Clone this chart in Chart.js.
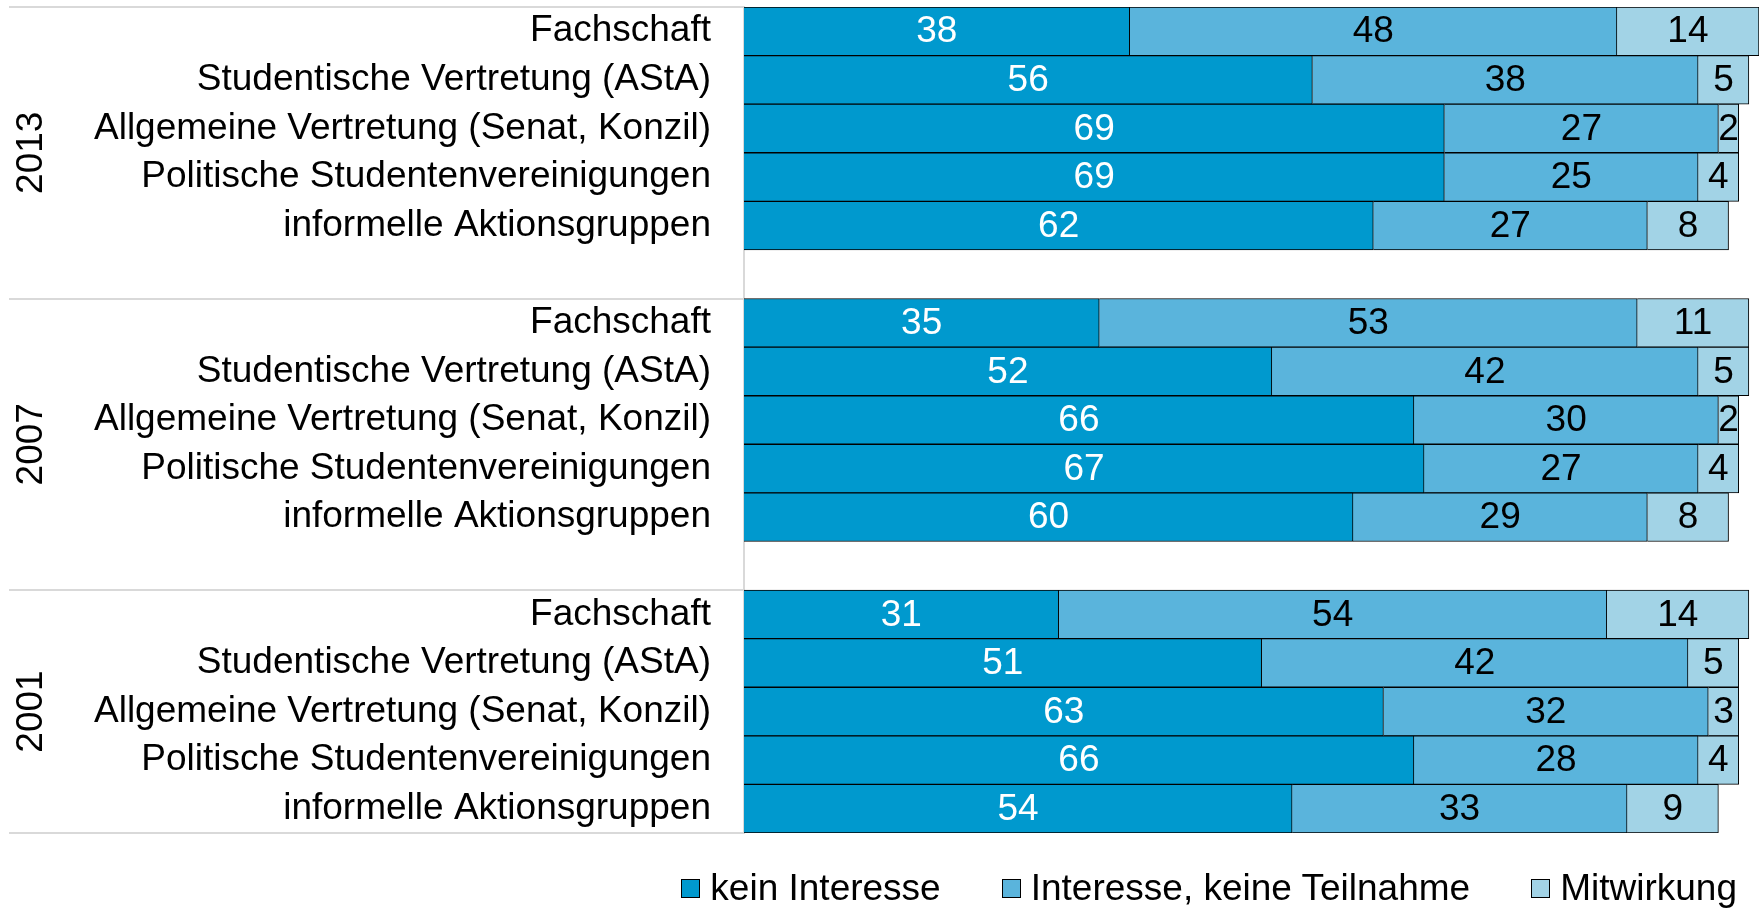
<!DOCTYPE html>
<html lang="de">
<head>
<meta charset="utf-8">
<title>Interesse an studentischer Mitwirkung</title>
<script src="https://cdn.jsdelivr.net/npm/chart.js@4.4.1/dist/chart.umd.min.js"></script>
<style>
  html, body { margin: 0; padding: 0; background: #fff; }
  .wrap { position: relative; width: 1760px; height: 908px; }
  .legend {
    position: absolute; top: 866px; right: 23px; height: 44px;
    display: flex; align-items: center; gap: 61px;
    font-family: 'Liberation Sans', Arial, sans-serif; font-size: 37px; color: #000;
  }
  .leg { display: flex; align-items: center; white-space: nowrap; }
  .leg-sq { width: 17px; height: 17px; border: 1.5px solid #000; margin-right: 10px; }
</style>
</head>
<body>
<div class="wrap">
  <canvas id="chart" width="1760" height="908"></canvas>
  <div class="legend" id="legend"></div>
</div>
<script>
const FONT = "'Liberation Sans', Arial, sans-serif";

const YEARS = ['2013', '2007', '2001'];
const ROWS = [
  'Fachschaft',
  'Studentische Vertretung (AStA)',
  'Allgemeine Vertretung (Senat, Konzil)',
  'Politische Studentenvereinigungen',
  'informelle Aktionsgruppen',
];

// Werte in % je Jahr, Reihenfolge wie ROWS
const KEIN_INTERESSE = [[38, 56, 69, 69, 62], [35, 52, 66, 67, 60], [31, 51, 63, 66, 54]];
const KEINE_TEILNAHME = [[48, 38, 27, 25, 27], [53, 42, 30, 27, 29], [54, 42, 32, 28, 33]];
const MITWIRKUNG = [[14, 5, 2, 4, 8], [11, 5, 2, 4, 8], [14, 5, 3, 4, 9]];

const SERIES = [
  { label: 'kein Interesse', values: KEIN_INTERESSE, color: '#0099CE', text: '#fff' },
  { label: 'Interesse, keine Teilnahme', values: KEINE_TEILNAHME, color: '#5AB4DC', text: '#000' },
  { label: 'Mitwirkung', values: MITWIRKUNG, color: '#A2D3E6', text: '#000' },
];

// leere Zeile zwischen den Jahresblöcken
function flatten(perYear, spacer) {
  const out = [];
  perYear.forEach((arr, i) => {
    out.push(...arr);
    if (i < perYear.length - 1) out.push(spacer);
  });
  return out;
}

const labels = flatten(YEARS.map(() => ROWS), '');

// ── Jahreslabels + Trennlinien links ─────────────────────
const groupPlugin = {
  id: 'groups',
  afterDraw(chart) {
    const { ctx, chartArea } = chart;
    const y = chart.scales.y;
    const size = ROWS.length + 1;
    ctx.save();
    ctx.strokeStyle = '#d9d9d9';
    ctx.lineWidth = 2;
    const bounds = YEARS.map((_, i) => i * size - 0.5).concat([labels.length - 0.5]);
    bounds.forEach(b => {
      const py = Math.round(y.getPixelForValue(b));
      ctx.beginPath();
      ctx.moveTo(9, py);
      ctx.lineTo(chartArea.left - 1, py);
      ctx.stroke();
    });
    ctx.fillStyle = '#000';
    ctx.font = '37px ' + FONT;
    ctx.textAlign = 'center';
    ctx.textBaseline = 'middle';
    YEARS.forEach((yr, i) => {
      const top = y.getPixelForValue(bounds[i]);
      const bottom = y.getPixelForValue(Math.min(bounds[i] + size, labels.length - 0.5));
      ctx.save();
      ctx.translate(32, (top + bottom) / 2);
      ctx.rotate(-Math.PI / 2);
      ctx.fillText(yr, 0, 0);
      ctx.restore();
    });
    ctx.restore();
  },
};

// ── Werte in den Balken ──────────────────────────────────
const valuePlugin = {
  id: 'values',
  afterDatasetsDraw(chart) {
    const { ctx } = chart;
    ctx.save();
    ctx.font = '37px ' + FONT;
    ctx.textAlign = 'center';
    ctx.textBaseline = 'middle';
    chart.data.datasets.forEach((ds, di) => {
      const meta = chart.getDatasetMeta(di);
      ctx.fillStyle = SERIES[di].text;
      meta.data.forEach((bar, i) => {
        const v = ds.data[i];
        if (v == null) return;
        ctx.fillText(Math.round(v), (bar.x + bar.base) / 2, bar.y + 1);
      });
    });
    ctx.restore();
  },
};

new Chart(document.getElementById('chart'), {
  type: 'bar',
  data: {
    labels,
    datasets: SERIES.map(s => ({
      label: s.label,
      data: flatten(s.values, null),
      backgroundColor: s.color,
      borderColor: '#000',
      borderWidth: 1,
      barPercentage: 1,
      categoryPercentage: 1,
    })),
  },
  options: {
    indexAxis: 'y',
    responsive: false,
    animation: false,
    layout: { padding: { top: 7, bottom: 75, left: 0, right: 1 } },
    plugins: { legend: { display: false }, tooltip: { enabled: false } },
    scales: {
      x: { stacked: true, min: 0, max: 100, display: false },
      y: {
        stacked: true,
        grid: { display: false },
        border: { display: true, color: '#d9d9d9', width: 2 },
        ticks: { autoSkip: false, padding: 25, color: '#000', font: { family: FONT, size: 37 } },
        afterFit(scale) {
          scale.width = 744;
          scale.paddingTop = 0;
          scale.paddingBottom = 0;
        },
      },
    },
  },
  plugins: [groupPlugin, valuePlugin],
});

// ── Legende ──────────────────────────────────────────────
const legend = document.getElementById('legend');
SERIES.forEach(s => {
  legend.innerHTML += `
    <span class="leg"><span class="leg-sq" style="background:${s.color}"></span>${s.label}</span>`;
});
</script>
</body>
</html>
